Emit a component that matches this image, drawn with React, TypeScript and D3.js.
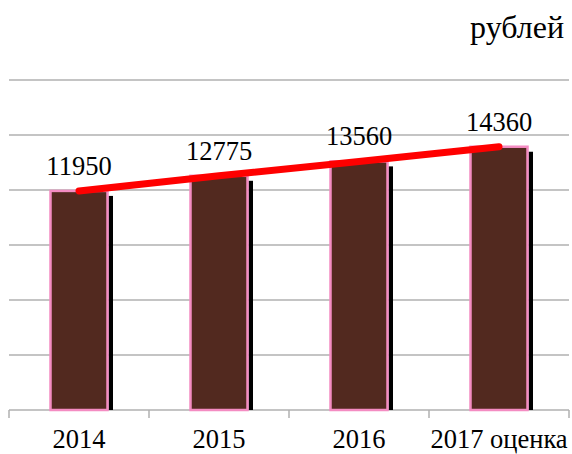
import { useEffect, useRef } from 'react';
import * as d3 from 'd3';

const years = ['2014', '2015', '2016', '2017 оценка'];
const values = [11950, 12775, 13560, 14360];
const yTicks = [0, 3000, 6000, 9000, 12000, 15000, 18000];
const unitLabel = 'рублей';

export default function App() {
  const svgRef = useRef<SVGSVGElement | null>(null);
  const width = 572;
  const height = 454;

  useEffect(() => {
    document.body.style.margin = '0';
    const svg = d3.select(svgRef.current);
    svg.selectAll('*').remove();

    const margin = { top: 80, right: 3, bottom: 44, left: 9 };
    const h = height - margin.top - margin.bottom;
    const font = 'Liberation Serif, Times New Roman, serif';

    svg.attr('width', width).attr('height', height)
      .style('font-family', font);

    // unit label
    svg.append('text')
      .attr('x', 564)
      .attr('y', 38)
      .attr('text-anchor', 'end')
      .style('font-family', font)
      .style('font-size', '32px')
      .attr('fill', '#000')
      .text(unitLabel);

    const g = svg.append('g')
      .attr('transform', `translate(${margin.left},${margin.top})`);

    const x = d3.scaleBand()
      .domain(years)
      .range([0, 560]);

    const y = d3.scaleLinear()
      .domain([0, 18000])
      .range([h, 0]);

    // Grid lines
    g.append('g')
      .selectAll('line')
      .data(yTicks.slice(1))
      .join('line')
      .attr('x1', 0).attr('x2', 560)
      .attr('y1', d => y(d)).attr('y2', d => y(d))
      .attr('stroke', '#b0b0b0')
      .attr('stroke-width', 1.5);

    // X axis line + ticks
    g.append('line')
      .attr('x1', 0).attr('x2', 560)
      .attr('y1', h).attr('y2', h)
      .attr('stroke', '#b0b0b0')
      .attr('stroke-width', 1.5);

    const tickXs = years.map(d => x(d) as number).concat([560]);
    g.append('g')
      .selectAll('line')
      .data(tickXs)
      .join('line')
      .attr('x1', d => d).attr('x2', d => d)
      .attr('y1', h).attr('y2', h + 8)
      .attr('stroke', '#b0b0b0')
      .attr('stroke-width', 1.5);

    const barW = 57;
    const cx = (d: string) => (x(d) as number) + x.bandwidth() / 2;

    // shadows
    g.append('g')
      .selectAll('rect')
      .data(values)
      .join('rect')
      .attr('x', (d, i) => cx(years[i]) + barW / 2 + 1)
      .attr('y', d => y(d) + 5)
      .attr('width', 4.5)
      .attr('height', d => h - y(d) - 5)
      .attr('fill', '#000');

    // bars
    g.append('g')
      .selectAll('rect')
      .data(values)
      .join('rect')
      .attr('x', (d, i) => cx(years[i]) - barW / 2)
      .attr('y', d => y(d))
      .attr('width', barW)
      .attr('height', d => h - y(d))
      .attr('fill', '#52291f')
      .attr('stroke', '#f48cc2')
      .attr('stroke-width', 2.5);

    // line
    const line = d3.line<number>()
      .x((d, i) => cx(years[i]))
      .y(d => y(d));

    g.append('path')
      .datum(values)
      .attr('fill', 'none')
      .attr('stroke', '#ff0000')
      .attr('stroke-width', 7)
      .attr('stroke-linecap', 'round')
      .attr('d', line);

    // value labels
    g.append('g')
      .selectAll('text')
      .data(values)
      .join('text')
      .attr('x', (d, i) => Math.round(cx(years[i])))
      .attr('y', d => Math.round(y(d) - 16))
      .attr('text-anchor', 'middle')
      .attr('font-family', font)
      .style('font-family', font)
      .style('font-size', '26.5px')
      .attr('fill', '#000')
      .text(d => String(d));

    // category labels
    g.append('g')
      .selectAll('text')
      .data(years)
      .join('text')
      .attr('x', d => cx(d))
      .attr('y', h + 38)
      .attr('text-anchor', 'middle')
      .style('font-family', font)
      .style('font-size', '26.5px')
      .attr('fill', '#000')
      .text(d => d);
  }, []);

  return (
    <div>
      <svg ref={svgRef} />
    </div>
  );
}
